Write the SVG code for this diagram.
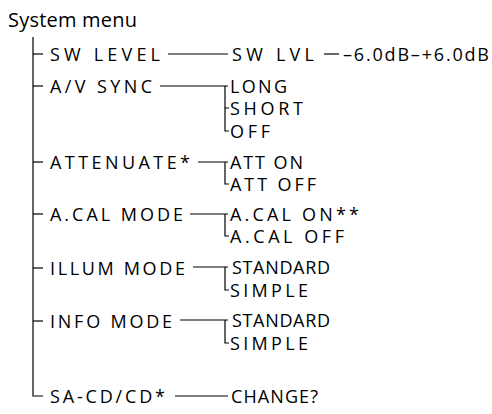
<svg xmlns="http://www.w3.org/2000/svg" width="492" height="414" viewBox="0 0 492 414">
<style>
text{font-family:"Open Sans","Noto Sans","DejaVu Sans",sans-serif;font-size:18px;fill:#000}
.t{font-size:20px}
.c line,.c path{stroke:#000;stroke-width:1.2;fill:none}
</style>
<rect width="492" height="414" fill="#fff"/>
<g class="c" id="connectors">
<path d="M33 37V396H43"/>
<line x1="33" y1="54" x2="43" y2="54"/>
<line x1="33" y1="86" x2="43" y2="86"/>
<line x1="33" y1="162" x2="43" y2="162"/>
<line x1="33" y1="214" x2="43" y2="214"/>
<line x1="33" y1="268" x2="43" y2="268"/>
<line x1="33" y1="321" x2="43" y2="321"/>
<line x1="168" y1="54" x2="228" y2="54"/>
<line x1="324" y1="54" x2="339" y2="54"/>
<path d="M160 86H228M225 86V131H229M225 108H229"/>
<path d="M198 162H228M225 162V184H229"/>
<path d="M190 214H228M225 214V236H229"/>
<path d="M193 267H228M225 267V290H229"/>
<path d="M180 320H228M225 320V343H229"/>
<line x1="175" y1="396" x2="228" y2="396"/>
</g>
<g id="root"><text class="t" x="8" y="27" textLength="129" lengthAdjust="spacing">System menu</text></g>
<g id="sw-level"><text x="50" y="60.5" textLength="110" lengthAdjust="spacing">SW LEVEL</text></g>
<g id="sw-lvl"><text x="232" y="60.5" textLength="82" lengthAdjust="spacing">SW LVL</text></g>
<g id="sw-range"><text x="343" y="60.5" textLength="146" lengthAdjust="spacing">–6.0dB–+6.0dB</text></g>
<g id="av-sync"><text x="50" y="92.5" textLength="102" lengthAdjust="spacing">A/V SYNC</text></g>
<g id="long"><text x="230" y="92.5" textLength="57" lengthAdjust="spacing">LONG</text></g>
<g id="short"><text x="230" y="114.5" textLength="73" lengthAdjust="spacing">SHORT</text></g>
<g id="off"><text x="230" y="137.5" textLength="40" lengthAdjust="spacing">OFF</text></g>
<g id="attenuate"><text x="50" y="168.5" textLength="140" lengthAdjust="spacing">ATTENUATE*</text></g>
<g id="att-on"><text x="230" y="168.5" textLength="73" lengthAdjust="spacing">ATT ON</text></g>
<g id="att-off"><text x="230" y="190.5" textLength="86" lengthAdjust="spacing">ATT OFF</text></g>
<g id="acal-mode"><text x="50" y="220.5" textLength="133" lengthAdjust="spacing">A.CAL MODE</text></g>
<g id="acal-on"><text x="230" y="220.5" textLength="129" lengthAdjust="spacing">A.CAL  ON**</text></g>
<g id="acal-off"><text x="230" y="242.5" textLength="114" lengthAdjust="spacing">A.CAL  OFF</text></g>
<g id="illum-mode"><text x="50" y="274.5" textLength="135" lengthAdjust="spacing">ILLUM MODE</text></g>
<g id="illum-standard"><text x="232" y="273.5" textLength="98" lengthAdjust="spacing">STANDARD</text></g>
<g id="illum-simple"><text x="230" y="296.5" textLength="78" lengthAdjust="spacing">SIMPLE</text></g>
<g id="info-mode"><text x="50" y="327.5" textLength="122" lengthAdjust="spacing">INFO MODE</text></g>
<g id="info-standard"><text x="232" y="326.5" textLength="98" lengthAdjust="spacing">STANDARD</text></g>
<g id="info-simple"><text x="230" y="349.5" textLength="78" lengthAdjust="spacing">SIMPLE</text></g>
<g id="sacd"><text x="50" y="402.5" textLength="115" lengthAdjust="spacing">SA-CD/CD*</text></g>
<g id="change"><text x="231" y="402.5" textLength="87" lengthAdjust="spacing">CHANGE?</text></g>
</svg>
